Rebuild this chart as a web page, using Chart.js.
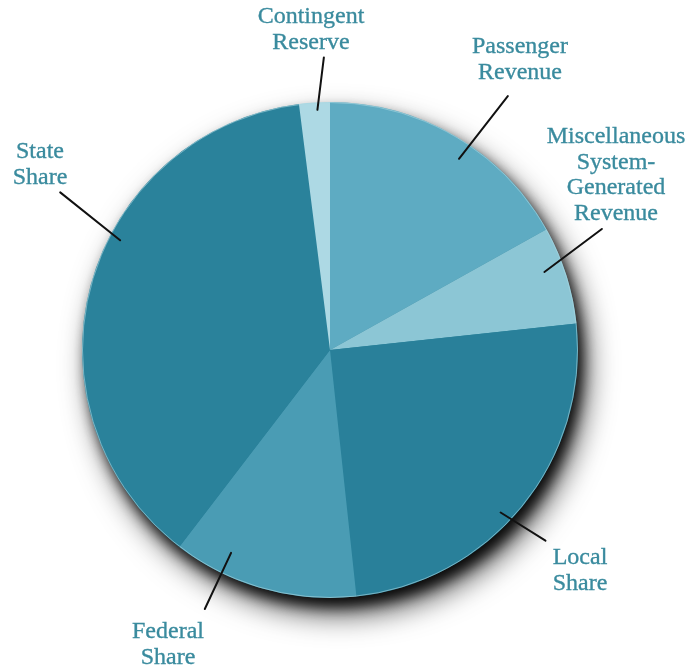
<!DOCTYPE html>
<html>
<head>
<meta charset="utf-8">
<script src="https://cdn.jsdelivr.net/npm/chart.js@4"></script>
<style>
html,body{margin:0;padding:0;background:#fff;}
#wrap{width:691px;height:672px;}
</style>
</head>
<body>
<div id="wrap"><canvas id="c" width="691" height="672"></canvas></div>
<script>
const categories = ["Passenger Revenue", "Miscellaneous System-Generated Revenue", "Local Share", "Federal Share", "State Share", "Contingent Reserve"];
const shares = [16.9, 6.4, 25.0, 12.1, 37.6, 2.0];
const sliceColors = ["#5eabc2", "#8cc6d5", "#29809a", "#4a9cb4", "#2a829b", "#add9e4"];
const labelLines = [
  ["Passenger", "Revenue"],
  ["Miscellaneous", "System-", "Generated", "Revenue"],
  ["Local", "Share"],
  ["Federal", "Share"],
  ["State", "Share"],
  ["Contingent", "Reserve"]
];
// label layout: text anchor (x,y of first line center), leader angle (deg clockwise from top), inner/outer radius factor
const labelLayout = [
  {x: 520, y: 47, a1: 34, r1: 0.93, a2: 35, r2: 1.25},
  {x: 616, y: 137, a1: 70, r1: 0.92, a2: 66, r2: 1.2},
  {x: 580, y: 558, a1: 133.6, r1: 0.95, a2: 131.5, r2: 1.16},
  {x: 168, y: 632, a1: 206, r1: 0.91, a2: 205.8, r2: 1.16},
  {x: 40, y: 152, a1: 297.6, r1: 0.955, a2: 300.3, r2: 1.26},
  {x: 311, y: 17, a1: 357, r1: 0.97, a2: 358.8, r2: 1.18}
];

const shadowPlugin = {
  id: 'pieShadow',
  beforeDatasetsDraw(chart) {
    const arc = chart.getDatasetMeta(0).data[0];
    if (!arc) return;
    const ctx = chart.ctx;
    [[30, 9, 16, 'rgba(0,0,0,0.75)'], [14, 5, 9, 'rgba(0,0,0,0.9)']].forEach(s => {
      ctx.save();
      ctx.shadowColor = s[3];
      ctx.shadowBlur = s[0];
      ctx.shadowOffsetX = s[1];
      ctx.shadowOffsetY = s[2];
      ctx.fillStyle = '#2a809a';
      ctx.beginPath();
      ctx.arc(arc.x, arc.y, arc.outerRadius - 1, 0, Math.PI * 2);
      ctx.fill();
      ctx.restore();
    });
  },
  afterDatasetsDraw(chart) {
    const arc = chart.getDatasetMeta(0).data[0];
    if (!arc) return;
    const ctx = chart.ctx;
    ctx.save();
    ctx.strokeStyle = 'rgba(170,215,225,0.6)';
    ctx.lineWidth = 1;
    ctx.beginPath();
    ctx.arc(arc.x, arc.y, arc.outerRadius - 0.5, 0, Math.PI * 2);
    ctx.stroke();
    ctx.restore();
  }
};

const labelPlugin = {
  id: 'pieLabels',
  afterDatasetsDraw(chart) {
    const arc = chart.getDatasetMeta(0).data[0];
    if (!arc) return;
    const ctx = chart.ctx;
    const cx = arc.x, cy = arc.y, R = arc.outerRadius;
    ctx.save();
    labelLayout.forEach((L, i) => {
      const t1 = L.a1 * Math.PI / 180, t2 = L.a2 * Math.PI / 180;
      ctx.strokeStyle = '#111';
      ctx.lineWidth = 2;
      ctx.lineCap = 'round';
      ctx.beginPath();
      ctx.moveTo(cx + Math.sin(t1) * R * L.r1, cy - Math.cos(t1) * R * L.r1);
      ctx.lineTo(cx + Math.sin(t2) * R * L.r2, cy - Math.cos(t2) * R * L.r2);
      ctx.stroke();
      ctx.fillStyle = '#3a8b9e';
      ctx.strokeStyle = '#3a8b9e';
      ctx.lineWidth = 0.35;
      ctx.font = '24px "Liberation Serif", "DejaVu Serif", serif';
      ctx.textAlign = 'center';
      ctx.textBaseline = 'middle';
      labelLines[i].forEach((line, j) => {
        ctx.fillText(line, L.x, L.y + j * 25.5);
        ctx.strokeText(line, L.x, L.y + j * 25.5);
      });
    });
    ctx.restore();
  }
};

new Chart(document.getElementById('c'), {
  type: 'pie',
  data: {
    labels: categories,
    datasets: [{
      data: shares,
      backgroundColor: sliceColors,
      borderWidth: 0
    }]
  },
  options: {
    responsive: false,
    animation: false,
    layout: {padding: {left: 82, right: 113, top: 100, bottom: 72}},
    plugins: {legend: {display: false}, tooltip: {enabled: false}}
  },
  plugins: [shadowPlugin, labelPlugin]
});
</script>
</body>
</html>
